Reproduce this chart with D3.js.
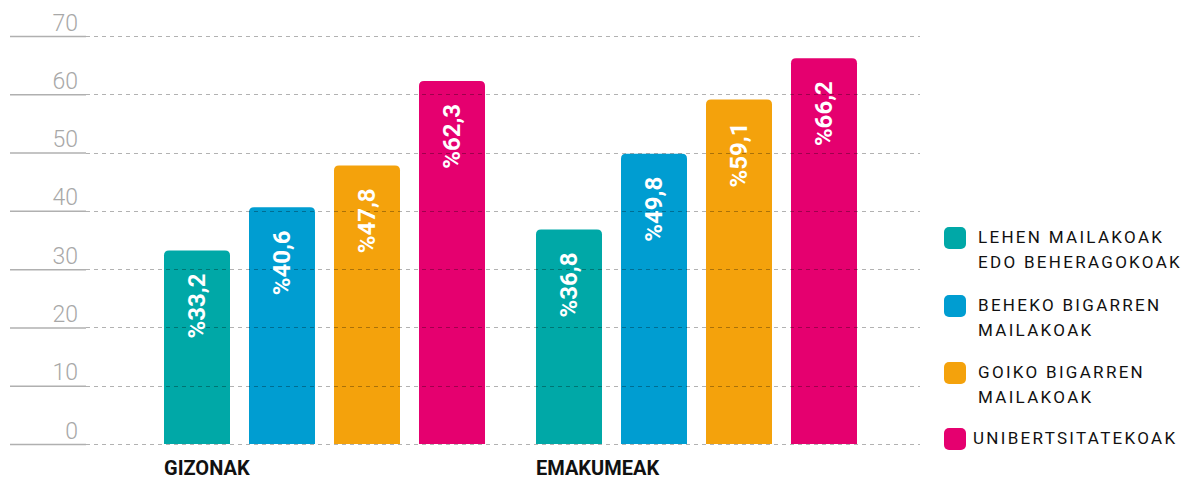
<!DOCTYPE html>
<html><head><meta charset="utf-8">
<script src="https://cdn.jsdelivr.net/npm/d3@7"></script>
<style>
html,body{margin:0;padding:0;background:#fff;}
svg{display:block;}
</style></head>
<body>
<svg id="chart" width="1189" height="480"></svg>
<script>
const groups = ["GIZONAK", "EMAKUMEAK"];
const seriesNames = ["LEHEN MAILAKOAK EDO BEHERAGOKOAK", "BEHEKO BIGARREN MAILAKOAK", "GOIKO BIGARREN MAILAKOAK", "UNIBERTSITATEKOAK"];
const legendLines = [["LEHEN MAILAKOAK", "EDO BEHERAGOKOAK"], ["BEHEKO BIGARREN", "MAILAKOAK"], ["GOIKO BIGARREN", "MAILAKOAK"], ["UNIBERTSITATEKOAK"]];
const valuesGizonak = [33.2, 40.6, 47.8, 62.3];
const valuesEmakumeak = [36.8, 49.8, 59.1, 66.2];
const labelsGizonak = ["%33,2", "%40,6", "%47,8", "%62,3"];
const labelsEmakumeak = ["%36,8", "%49,8", "%59,1", "%66,2"];
const yTicks = [0, 10, 20, 30, 40, 50, 60, 70];
const colors = ["#00a8a7", "#009dd1", "#f4a20c", "#e5006f"];

const svg = d3.select("#chart");
const y = d3.scaleLinear().domain([0, 70]).range([444, 36]);
const x0 = d3.scaleBand().domain(groups).range([164, 857]).paddingInner(51/372).paddingOuter(0);
const x1 = d3.scaleBand().domain(seriesNames).range([0, x0.bandwidth()]).paddingInner(19/85).paddingOuter(0);
const color = d3.scaleOrdinal().domain(seriesNames).range(colors);

const data = [];
groups.forEach((g, gi) => {
  const vals = gi === 0 ? valuesGizonak : valuesEmakumeak;
  const labs = gi === 0 ? labelsGizonak : labelsEmakumeak;
  seriesNames.forEach((s, si) => data.push({g, s, v: vals[si], label: labs[si]}));
});

function topRounded(x, yTop, w, yBot, r) {
  return `M${x},${yBot}V${yTop + r}Q${x},${yTop} ${x + r},${yTop}H${x + w - r}Q${x + w},${yTop} ${x + w},${yTop + r}V${yBot}Z`;
}

// bars
svg.append("g").selectAll("path").data(data).join("path")
  .attr("d", d => topRounded(x0(d.g) + x1(d.s), y(d.v), x1.bandwidth(), y(0), 5))
  .attr("fill", d => color(d.s));

// axis (solid part + labels)
const axis = d3.axisRight(y).tickValues(yTicks).tickSize(76).tickFormat(d3.format("d"));
const ag = svg.append("g").attr("transform", "translate(10,0)").call(axis);
ag.select(".domain").remove();
ag.selectAll(".tick line").attr("stroke", "#b0b0b0").attr("stroke-width", 1.5);
ag.selectAll(".tick text")
  .attr("x", 68).attr("dy", "-6").attr("text-anchor", "end")
  .attr("fill", "#a8a8a8")
  .style("font-family", "Roboto").style("font-weight", 300).style("font-size", "23px");

// dashed gridlines over bars
svg.append("g").selectAll("line").data(yTicks).join("line")
  .attr("x1", 86).attr("x2", 920)
  .attr("y1", d => Math.round(y(d)) + 0.5).attr("y2", d => Math.round(y(d)) + 0.5)
  .attr("stroke", "#000").attr("stroke-opacity", 0.3)
  .attr("stroke-dasharray", "4,4");

// value labels
svg.append("g").selectAll("text").data(data).join("text")
  .attr("transform", d => `translate(${x0(d.g) + x1(d.s) + x1.bandwidth()/2},${y(d.v) + 23}) rotate(-90)`)
  .attr("text-anchor", "end").attr("dominant-baseline", "central")
  .attr("fill", "#fff")
  .style("font-family", "Roboto").style("font-weight", 700).style("font-size", "24px")
  .text(d => d.label);

// group labels
svg.append("g").selectAll("text").data(groups).join("text")
  .attr("x", d => x0(d)).attr("y", 475)
  .attr("fill", "#111")
  .style("font-family", "Roboto").style("font-weight", 700).style("font-size", "20px")
  .text(d => d);

// legend
const legendTops = [227, 295, 362, 428];
const lg = svg.append("g").selectAll("g").data(seriesNames).join("g")
  .attr("transform", (d, i) => `translate(944,${legendTops[i]})`);
lg.append("rect").attr("width", 22).attr("height", 22).attr("rx", 5)
  .attr("fill", d => color(d));
lg.each(function(d, i) {
  const g = d3.select(this);
  legendLines[i].forEach((line, li) => {
    g.append("text")
      .attr("x", i === 3 ? 29 : 34).attr("y", 16 + li * 25)
      .attr("fill", "#111")
      .style("font-family", "Roboto").style("font-weight", 400).style("font-size", "17px")
      .style("letter-spacing", "2.3px")
      .text(line);
  });
});
</script>
</body></html>
